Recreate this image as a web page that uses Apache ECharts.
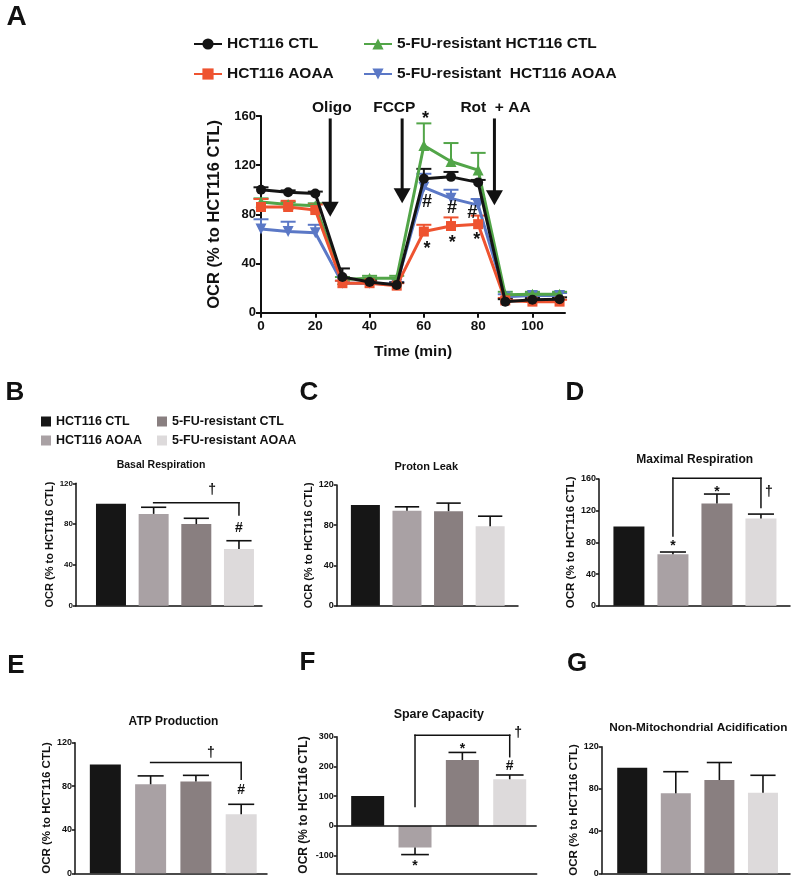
<!DOCTYPE html>
<html>
<head>
<meta charset="utf-8">
<script src="https://cdn.jsdelivr.net/npm/echarts@6.0.0/dist/echarts.min.js"></script>
<style>
html,body{margin:0;padding:0;background:#fff;}
#chart{width:800px;height:885px;}
</style>
</head>
<body>
<div id="chart"></div>
<script>
// ---------------- Panel A data: OCR time course ----------------
const timeMin = [0, 10, 20, 30, 40, 50, 60, 70, 80, 90, 100, 110];
const timeTicks = [0, 20, 40, 60, 80, 100];
const ocrTicks = [0, 40, 80, 120, 160];
const lineNames = ['HCT116 CTL', 'HCT116 AOAA', '5-FU-resistant HCT116 CTL', '5-FU-resistant  HCT116 AOAA'];
const ctlMean      = [100, 98, 97, 29, 25, 22.5, 109, 110.5, 106, 9, 10.5, 11];
const ctlUpper     = [102, 99.5, 98.5, 36, 27, 24.5, 117, 114.5, 108, 11, 12, 12.5];
const aoaaMean     = [86, 86, 83.5, 24, 24, 22, 66, 70.5, 72, 10, 9, 9];
const aoaaUpper    = [92.5, 91, 88, 26, 26, 24, 71.5, 77.5, 79, 12, 11, 10.5];
const resCtlMean   = [90, 88, 87, 27, 28, 28, 136, 123, 116, 14.5, 15, 15];
const resCtlUpper  = [93, 90, 89, 29, 30, 30, 154, 138, 130, 17, 17, 17];
const resAoaaMean  = [68, 66, 65, 24, 24, 23, 102, 93, 87.5, 13, 14, 14];
const resAoaaUpper = [76, 74, 71.5, 26, 26, 25, 113, 100, 92.5, 15, 16, 16];
const injections = ['Oligo', 'FCCP', 'Rot  + AA'];
const injectTime = [25.5, 52, 86];
const injectTip = [78, 89, 87.5];
const injectLabelTime = [26.1, 49.1, 86.4];
const injectTop = 158;
const injectLabelLevel = 166.5;
const marksA = [[60.6, 161, '*'], [61.2, 90, '#'], [70.4, 85, '#'], [77.8, 81, '#'],
                [61.2, 55, '*'], [70.5, 60.5, '*'], [79.5, 63, '*']];

// ---------------- Panels B-G data: bar summaries ----------------
const groups = ['HCT116 CTL', 'HCT116 AOAA', '5-FU-resistant CTL', '5-FU-resistant AOAA'];
const basal = [100, 90, 80, 55.6];
const basalUpper = [null, 96.5, 85.7, 63.7];
const leak = [100, 94.3, 94, 79];
const leakUpper = [null, 98.3, 102, 89];
const maximal = [100, 65, 129, 110];
const maximalUpper = [null, 67.8, 141, 115.7];
const atp = [100, 81.8, 84.3, 54.2];
const atpUpper = [null, 89.5, 90, 63.4];
const spare = [100, -73, 221.5, 156.7];
const spareUpper = [null, -97, 247, 171];
const nonMito = [100, 75.8, 88.4, 76.4];
const nonMitoUpper = [null, 96.3, 105, 92.9];
const ticks120 = [0, 40, 80, 120];
const ticks160 = [0, 40, 80, 120, 160];
const ticksSpare = [-100, 0, 100, 200, 300];
// brackets: [from bar, to bar, level, left drop to, right drop to]
const bracketBasal = [1, 3, 101, null, 89];
const bracketMaximal = [1, 3, 161, 88, 124];
const bracketAtp = [1, 3, 101.7, null, 86.4];
const bracketSpare = [1, 3, 305, 65, 232.6];
const marksBasal = [[2.37, 113, '†'], [3, 76, '#']];
const marksLeak = [];
const marksMaximal = [[1, 79, '*'], [2, 148, '*'], [3.18, 144, '†']];
const marksAtp = [[2.33, 110, '†'], [3, 76, '#']];
const marksSpare = [[2, 268, '*'], [3, 202, '#'], [1, -125, '*'], [3.18, 311, '†']];
const marksNonMito = [];

// ---------------- styling / layout ----------------
const FONT = '"Liberation Sans", Arial, Helvetica, sans-serif';
const INK = '#111111';
const groupColors = ['#161616', '#a9a1a4', '#897f80', '#dddadb'];

const lineDefs = [
  { mean: resAoaaMean, upper: resAoaaUpper, name: lineNames[3], color: '#5b78c6', symbol: 'triangle', rotate: 180, size: 11 },
  { mean: resCtlMean, upper: resCtlUpper, name: lineNames[2], color: '#52a548', symbol: 'triangle', rotate: 0, size: 11 },
  { mean: aoaaMean, upper: aoaaUpper, name: lineNames[1], color: '#ee5330', symbol: 'rect', rotate: 0, size: 10 },
  { mean: ctlMean, upper: ctlUpper, name: lineNames[0], color: '#141414', symbol: 'circle', rotate: 0, size: 10 }
];

const panels = [
  { letter: 'B', letterPos: [15, 393], title: 'Basal Respiration', titlePos: [161, 465], titleSize: 10.5,
    vals: basal, upper: basalUpper, bracket: bracketBasal, marks: marksBasal,
    grid: { left: 76, top: 483.3, width: 186, height: 122.4 }, xr: [-0.82, 3.54], yr: [0, 120], ticks: ticks120,
    bw: 30, nameGap: 14, tickSize: 8, nameSize: 11 },
  { letter: 'C', letterPos: [309, 393], title: 'Proton Leak', titlePos: [426.3, 466.7], titleSize: 11,
    vals: leak, upper: leakUpper, bracket: null, marks: marksLeak,
    grid: { left: 336.7, top: 485, width: 181.3, height: 120.7 }, xr: [-0.69, 3.67], yr: [0, 120], ticks: ticks120,
    bw: 29, nameGap: 17, tickSize: 9, nameSize: 11 },
  { letter: 'D', letterPos: [575, 393], title: 'Maximal Respiration', titlePos: [694.7, 459.3], titleSize: 12,
    vals: maximal, upper: maximalUpper, bracket: bracketMaximal, marks: marksMaximal,
    grid: { left: 599, top: 479, width: 191, height: 126.7 }, xr: [-0.68, 3.66], yr: [0, 160], ticks: ticks160,
    bw: 31, nameGap: 19.5, tickSize: 9, nameSize: 11.5 },
  { letter: 'E', letterPos: [16, 666], title: 'ATP Production', titlePos: [173.5, 721.7], titleSize: 12,
    vals: atp, upper: atpUpper, bracket: bracketAtp, marks: marksAtp,
    grid: { left: 75, top: 742.7, width: 192, height: 130.6 }, xr: [-0.67, 3.57], yr: [0, 120], ticks: ticks120,
    bw: 31, nameGap: 20, tickSize: 9, nameSize: 11.5 },
  { letter: 'F', letterPos: [307.5, 663], title: 'Spare Capacity', titlePos: [438.8, 714.3], titleSize: 12.5,
    vals: spare, upper: spareUpper, bracket: bracketSpare, marks: marksSpare,
    grid: { left: 336.7, top: 736.7, width: 200, height: 136.6 }, xr: [-0.654, 3.57], yr: [-160, 300], ticks: ticksSpare,
    bw: 33, nameGap: 27, tickSize: 9, nameSize: 12, zeroLine: true },
  { letter: 'G', letterPos: [577, 664], title: 'Non-Mitochondrial Acidification', titlePos: [698.3, 727.3], titleSize: 11.8,
    vals: nonMito, upper: nonMitoUpper, bracket: null, marks: marksNonMito,
    grid: { left: 601.7, top: 746.7, width: 188.3, height: 126.6 }, xr: [-0.70, 3.62], yr: [0, 120], ticks: ticks120,
    bw: 30, nameGap: 15, tickSize: 9, nameSize: 11.5 }
];

// ---------------- renderers ----------------
function errorBarRenderer(capHalf, lw, color) {
  return function (params, api) {
    const x = api.value(0), y0 = api.value(1), y1 = api.value(2);
    const p0 = api.coord([x, y0]), p1 = api.coord([x, y1]);
    const st = { stroke: color, lineWidth: lw };
    return { type: 'group', children: [
      { type: 'line', shape: { x1: p0[0], y1: p0[1], x2: p1[0], y2: p1[1] }, style: st },
      { type: 'line', shape: { x1: p1[0] - capHalf, y1: p1[1], x2: p1[0] + capHalf, y2: p1[1] }, style: st }
    ] };
  };
}
function textMarkRenderer(list, size) {
  return function (params, api) {
    const m = list[params.dataIndex];
    const p = api.coord([api.value(0), api.value(1)]);
    const dy = m[2] === '*' ? size * 0.24 : 0;
    return { type: 'text', x: p[0], y: p[1] + dy,
      style: { text: m[2], fill: INK, font: 'bold ' + size + 'px ' + FONT,
               align: 'center', verticalAlign: 'middle', textAlign: 'center', textVerticalAlign: 'middle' } };
  };
}
function bracketRenderer(br) {
  return function (params, api) {
    const pL = api.coord([br[0], br[2]]), pR = api.coord([br[1], br[2]]);
    const st = { stroke: INK, lineWidth: 1.5, lineCap: 'square' };
    const ch = [{ type: 'line', shape: { x1: pL[0], y1: pL[1], x2: pR[0], y2: pR[1] }, style: st }];
    if (br[3] != null) { const q = api.coord([br[0], br[3]]); ch.push({ type: 'line', shape: { x1: pL[0], y1: pL[1], x2: q[0], y2: q[1] }, style: st }); }
    if (br[4] != null) { const q = api.coord([br[1], br[4]]); ch.push({ type: 'line', shape: { x1: pR[0], y1: pR[1], x2: q[0], y2: q[1] }, style: st }); }
    return { type: 'group', children: ch };
  };
}

// ---------------- build option ----------------
const grid = [], xAxis = [], yAxis = [], series = [], graphic = [], legend = [];
const boldText = (size) => ({ fontFamily: FONT, fontWeight: 'bold', fontSize: size, color: INK });

// Panel A grid / axes
grid.push({ left: 261, top: 116, width: 304, height: 196.7 });
xAxis.push({ gridIndex: 0, type: 'value', min: 0, max: 112,
  axisLine: { onZero: false, lineStyle: { color: INK, width: 2 } },
  axisTick: { show: true, length: 5, customValues: timeTicks, lineStyle: { color: INK, width: 2 } },
  axisLabel: Object.assign({ customValues: timeTicks, margin: 7 }, boldText(13.5)),
  splitLine: { show: false },
  name: 'Time (min)', nameLocation: 'middle', nameGap: 31, nameTextStyle: boldText(15.5) });
yAxis.push({ gridIndex: 0, type: 'value', min: 0, max: 160, interval: 40,
  axisLine: { show: true, onZero: false, lineStyle: { color: INK, width: 2 } },
  axisTick: { show: true, length: 5, customValues: ocrTicks, lineStyle: { color: INK, width: 2 } },
  axisLabel: Object.assign({ customValues: ocrTicks, margin: 5 }, boldText(13)),
  splitLine: { show: false },
  name: 'OCR (% to HCT116 CTL)', nameLocation: 'middle', nameGap: 38, nameTextStyle: boldText(16.5) });

lineDefs.forEach((d, k) => {
  series.push({ type: 'custom', xAxisIndex: 0, yAxisIndex: 0, z: 1, silent: true,
    data: timeMin.map((t, i) => [t, d.mean[i], d.upper[i]]),
    renderItem: errorBarRenderer(7.5, 2, d.color) });
});
lineDefs.forEach((d, k) => {
  series.push({ type: 'line', name: d.name, xAxisIndex: 0, yAxisIndex: 0, z: 3 + k,
    data: timeMin.map((t, i) => [t, d.mean[i]]),
    symbol: d.symbol, symbolSize: d.size, symbolRotate: d.rotate, showAllSymbol: true,
    lineStyle: { color: d.color, width: 3 }, itemStyle: { color: d.color, opacity: 1 },
    emphasis: { disabled: true }, animation: false });
});
// injection arrows
series.push({ type: 'custom', xAxisIndex: 0, yAxisIndex: 0, z: 10, silent: true,
  data: injectTime.map((t, i) => [t, injectTip[i]]),
  renderItem: function (params, api) {
    const tip = api.coord([api.value(0), api.value(1)]);
    const top = api.coord([api.value(0), injectTop]);
    const headLen = 15, headHalf = 8.5;
    return { type: 'group', children: [
      { type: 'line', shape: { x1: top[0], y1: top[1], x2: tip[0], y2: tip[1] - headLen + 1 }, style: { stroke: INK, lineWidth: 3 } },
      { type: 'polygon', shape: { points: [[tip[0] - headHalf, tip[1] - headLen], [tip[0] + headHalf, tip[1] - headLen], [tip[0], tip[1]]] }, style: { fill: INK } }
    ] };
  } });
series.push({ type: 'custom', xAxisIndex: 0, yAxisIndex: 0, z: 10, silent: true,
  data: injectLabelTime.map(t => [t, injectLabelLevel]),
  renderItem: function (params, api) {
    const p = api.coord([api.value(0), api.value(1)]);
    return { type: 'text', x: p[0], y: p[1],
      style: { text: injections[params.dataIndex], fill: INK, font: 'bold 15.5px ' + FONT,
               align: 'center', verticalAlign: 'middle', textAlign: 'center', textVerticalAlign: 'middle' } };
  } });
series.push({ type: 'custom', xAxisIndex: 0, yAxisIndex: 0, z: 11, silent: true,
  data: marksA.map(m => [m[0], m[1]]), renderItem: textMarkRenderer(marksA, 18) });

// Panel A legends
const legA = (name, left, top) => ({ data: [name], left: left, top: top, padding: 0, itemWidth: 28, itemHeight: 14,
  selectedMode: false, textStyle: boldText(15.5) });
legend.push(legA(lineNames[0], 193, 36), legA(lineNames[2], 363, 36), legA(lineNames[1], 193, 66), legA(lineNames[3], 363, 66));

// Bar panels
panels.forEach((p, k) => {
  const gi = k + 1;
  grid.push(p.grid);
  xAxis.push({ gridIndex: gi, type: 'value', min: p.xr[0], max: p.xr[1],
    axisLine: { onZero: false, lineStyle: { color: INK, width: 1.5 } },
    axisTick: { show: false }, axisLabel: { show: false }, splitLine: { show: false } });
  yAxis.push({ gridIndex: gi, type: 'value', min: p.yr[0], max: p.yr[1],
    axisLine: { show: true, onZero: false, lineStyle: { color: INK, width: 1.5 } },
    axisTick: { show: true, length: 3, customValues: p.ticks, lineStyle: { color: INK, width: 1.5 } },
    axisLabel: Object.assign({ customValues: p.ticks, margin: 3 }, boldText(p.tickSize)),
    splitLine: { show: false },
    name: 'OCR (% to HCT116 CTL)', nameLocation: 'middle', nameGap: p.nameGap, nameTextStyle: boldText(p.nameSize) });
  groups.forEach((g, j) => {
    const s = { type: 'bar', name: 'bar|' + g, xAxisIndex: gi, yAxisIndex: gi, z: 2,
      data: [[j, p.vals[j]]], barWidth: p.bw, barGap: '-100%',
      itemStyle: { color: groupColors[j] }, emphasis: { disabled: true }, silent: true, animation: false };
    if (p.zeroLine && j === 0) {
      s.markLine = { silent: true, symbol: 'none', label: { show: false },
        lineStyle: { color: INK, width: 1.5, type: 'solid' }, emphasis: { disabled: true }, data: [{ yAxis: 0 }] };
    }
    series.push(s);
  });
  const errData = p.vals.map((v, j) => [j, v, p.upper[j]]).filter(d => d[2] != null);
  series.push({ type: 'custom', xAxisIndex: gi, yAxisIndex: gi, z: 3, silent: true,
    data: errData, renderItem: errorBarRenderer(p.bw * 0.42, 1.6, INK) });
  if (p.bracket) {
    series.push({ type: 'custom', xAxisIndex: gi, yAxisIndex: gi, z: 4, silent: true,
      data: [[p.bracket[0], p.bracket[2]]], renderItem: bracketRenderer(p.bracket) });
  }
  if (p.marks.length) {
    series.push({ type: 'custom', xAxisIndex: gi, yAxisIndex: gi, z: 5, silent: true,
      data: p.marks.map(m => [m[0], m[1]]), renderItem: textMarkRenderer(p.marks, 14) });
  }
  graphic.push({ type: 'text', x: p.titlePos[0], y: p.titlePos[1],
    style: { text: p.title, fill: INK, font: 'bold ' + p.titleSize + 'px ' + FONT,
             align: 'center', verticalAlign: 'middle', textAlign: 'center', textVerticalAlign: 'middle' } });
  graphic.push({ type: 'text', x: p.letterPos[0], y: p.letterPos[1],
    style: { text: p.letter, fill: INK, font: 'bold 26px ' + FONT,
             align: 'center', verticalAlign: 'middle', textAlign: 'center', textVerticalAlign: 'middle' } });
});
graphic.push({ type: 'text', x: 16.5, y: 17,
  style: { text: 'A', fill: INK, font: 'bold 28px ' + FONT,
           align: 'center', verticalAlign: 'middle', textAlign: 'center', textVerticalAlign: 'middle' } });

// Bar legend (panel B)
const legB = (name, left, top) => ({ data: [name], left: left, top: top, padding: 0, icon: 'rect',
  itemWidth: 10, itemHeight: 10, selectedMode: false, formatter: n => n.split('|')[1], textStyle: boldText(12.5) });
legend.push(legB('bar|' + groups[0], 41, 415), legB('bar|' + groups[2], 157, 415),
            legB('bar|' + groups[1], 41, 434), legB('bar|' + groups[3], 157, 434));

const chart = echarts.init(document.getElementById('chart'), null, { renderer: 'canvas' });
chart.setOption({
  backgroundColor: '#ffffff',
  animation: false,
  textStyle: { fontFamily: FONT },
  grid: grid, xAxis: xAxis, yAxis: yAxis, legend: legend, series: series, graphic: graphic
});
</script>
</body>
</html>
